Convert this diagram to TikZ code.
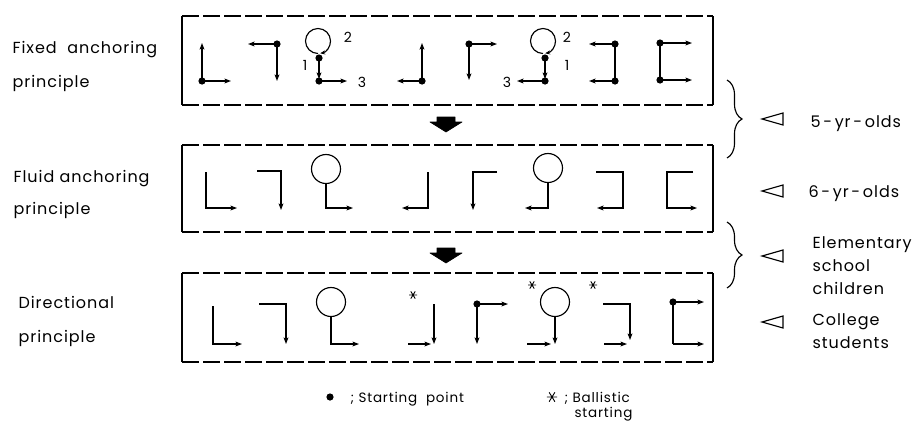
\documentclass[tikz,border=0pt]{standalone}
\usepackage{fontspec}
\setmainfont[LetterSpace=6]{Poppins}
\usetikzlibrary{arrows.meta,decorations.pathreplacing}
\newcommand\panelbox[2]{%
  \draw (182,#1) -- (182,#2);
  \draw (713,#1) -- (713,#2);
  \draw[dash pattern=on 17pt off 4pt] (182,#1) -- (713,#1);
  \draw[dash pattern=on 17pt off 4pt] (182,#2) -- (713,#2);}
\newcommand\hy{\,-\,}
\begin{document}
\begin{tikzpicture}[x=1pt,y=-1pt,line width=1.15pt,
  arr/.style={-{Stealth[length=6.5pt,width=4.8pt,inset=1.3pt]}},
  dotf/.style={radius=3.6pt},
  lab/.style={anchor=base west,inner sep=0pt,font=\fontsize{16}{19}\selectfont},
  num/.style={inner sep=0pt,font=\fontsize{14}{16}\selectfont},
  leg/.style={anchor=base west,inner sep=0pt,font=\fontsize{13.5}{16}\selectfont},
  astpic/.pic={\draw[line width=0.9pt] (-4,0)--(4,0) (-2.2,-3.6)--(2.2,3.6) (2.2,-3.6)--(-2.2,3.6);},
  blockarrow/.style={fill=black,draw=black,line width=0.6pt,line join=round}]
\useasboundingbox (0,0) rectangle (915,421);
% ---------- boxes ----------
\panelbox{16}{105}
\panelbox{145}{232}
\panelbox{273}{362}
% ---------- left labels ----------
\node[lab] (l1a) at (12,53) {Fixed\ \ anchoring};
\node[lab] (l1b) at (12,87) {principle};
\node[lab] (l2a) at (13,182) {Fluid anchoring};
\node[lab] (l2b) at (13,214) {principle};
\node[lab] (l3a) at (18,308) {Directional};
\node[lab] (l3b) at (18,342) {principle};
% ---------- panel 1 ----------
\fill (202,81) circle[dotf];
\draw[arr] (202,81) -- (202,43);
\draw[arr] (202,81) -- (231,81);
\fill (277,44) circle[dotf];
\draw[arr] (277,44) -- (248,44);
\draw[arr] (277,44) -- (277,81);
\draw[-{Stealth[length=5pt,width=4pt]}] (318,53.5) arc[start angle=270,end angle=-80,radius=12.5pt];
\fill (319,58) circle[dotf];
\fill (319,81) circle[dotf];
\draw[arr] (319,58) -- (319,79);
\draw[arr] (319,81) -- (347,81);
\node[num] (n11) at (305,65) {1};
\node[num] (n12) at (348,37) {2};
\node[num] (n13) at (362,82) {3};
\fill (422,81) circle[dotf];
\draw[arr] (422,81) -- (422,43);
\draw[arr] (422,81) -- (397,81);
\fill (469,44) circle[dotf];
\draw[arr] (469,44) -- (497,44);
\draw[arr] (469,44) -- (469,80);
\draw[-{Stealth[length=5pt,width=4pt]}] (543,53.5) arc[start angle=270,end angle=-80,radius=12.5pt];
\fill (545,58) circle[dotf];
\fill (545,81) circle[dotf];
\draw[arr] (545,58) -- (545,79);
\draw[arr] (545,81) -- (517,81);
\node[num] (n23) at (507,82) {3};
\node[num] (n22) at (567,37) {2};
\node[num] (n21) at (567,65) {1};
\fill (615,44) circle[dotf];
\fill (615,81) circle[dotf];
\draw (615,44) -- (615,81);
\draw[arr] (615,44) -- (589,44);
\draw[arr] (615,81) -- (589,81);
\fill (660,43) circle[dotf];
\fill (660,80) circle[dotf];
\draw (660,43) -- (660,80);
\draw[arr] (660,43) -- (692,43);
\draw[arr] (660,80) -- (692,80);
% ---------- panel 2 ----------
\draw[arr] (206,172) -- (206,208) -- (237,208);
\draw[arr] (257,171) -- (281,171) -- (281,210);
\draw (326,169) circle[radius=14.5pt];
\draw[arr] (326,183.5) -- (326,208) -- (353,208);
\draw[arr] (428,172) -- (428,208) -- (402,208);
\draw[arr] (497,172) -- (473,172) -- (473,210);
\draw (548,168) circle[radius=14.5pt];
\draw[arr] (548,182.5) -- (548,208) -- (525,208);
\draw[arr] (596,172) -- (623,172) -- (623,208) -- (597,208);
\draw[arr] (693,172) -- (667,172) -- (667,208) -- (697,208);
% ---------- panel 3 ----------
\draw[arr] (213,306) -- (213,344) -- (242,344);
\draw[arr] (259,304) -- (286,304) -- (286,344);
\draw (331,302) circle[radius=14.5pt];
\draw[arr] (331,316.5) -- (331,344) -- (359,344);
\pic at (413,295) {astpic};
\draw[arr] (434,304) -- (434,344);
\draw[arr] (408,344) -- (431,344);
\fill (477,304) circle[dotf];
\draw[arr] (477,304) -- (508,304);
\draw[arr] (477,304) -- (477,344);
\pic at (532,285) {astpic};
\draw (555,302) circle[radius=14.5pt];
\draw[arr] (555,316.5) -- (555,344);
\draw[arr] (527,344) -- (551,344);
\pic at (593,285) {astpic};
\draw[arr] (603,304) -- (630,304) -- (630,340);
\draw[arr] (604,344) -- (627,344);
\fill (673,302) circle[dotf];
\draw[arr] (673,302) -- (704,302);
\draw (673,302) -- (673,344);
\draw[arr] (673,344) -- (704,344);
% ---------- block arrows ----------
\draw[blockarrow] (437,117) -- (455,117) -- (455,122) -- (462,122) -- (446,132) -- (430,122) -- (437,122) -- cycle;
\draw[blockarrow] (437,248) -- (455,248) -- (455,253) -- (462,253) -- (446,263) -- (430,253) -- (437,253) -- cycle;
% ---------- braces ----------
\draw[decorate,decoration={brace,amplitude=15pt}] (727,80) -- (727,158);
\draw[decorate,decoration={brace,amplitude=15pt}] (727,222) -- (727,288);
% ---------- triangles and age labels ----------
\foreach \ty in {119,191,256,322}{
  \draw[line join=miter] (783,\ty-6) -- (762,\ty) -- (783,\ty+6) -- cycle;}
\node[lab] (r1) at (810,127) {5\hy yr\hy olds};
\node[lab] (r2) at (808,197) {6\hy yr\hy olds};
\node[lab] (r3a) at (812,248) {Elementary};
\node[lab] (r3b) at (812,271) {school};
\node[lab] (r3c) at (812,294) {children};
\node[lab] (r4a) at (812,325) {College};
\node[lab] (r4b) at (812,348) {students};
% ---------- legend ----------
\fill (330,397) circle[dotf];
\node[leg] (lg1) at (350,402) {; Starting\ \ point};
\pic[scale=1.3] at (552,397) {astpic};
\node[leg] (lg2) at (564,402) {; Ballistic};
\node[leg] (lg3) at (574,417) {starting};
\end{tikzpicture}
\end{document}
